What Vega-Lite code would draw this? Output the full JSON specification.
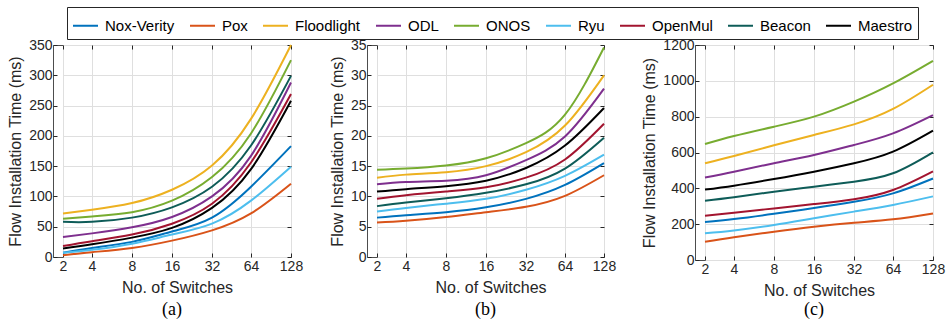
{
  "$schema": "https://vega.github.io/schema/vega-lite/v6.json",
  "padding": {"left": 7, "top": 6, "right": 5, "bottom": 2},
  "config": {
    "font": "Liberation Sans",
    "view": {"stroke": "#4d4d4d", "strokeWidth": 1},
    "axis": {
      "labelFont": "Liberation Sans", "labelFontSize": 14, "labelColor": "#262626",
      "titleFont": "Liberation Sans", "titleFontSize": 16, "titleFontWeight": "normal", "titleColor": "#262626",
      "tickColor": "#262626", "tickSize": -4, "domain": false,
      "gridColor": "#dfdfdf", "gridOpacity": 1, "labelFlush": false, "labelOverlap": false
    },
    "axisX": {"labelPadding": 6, "titlePadding": 6},
    "axisY": {"labelPadding": 5, "titlePadding": 5},
    "title": {"font": "Liberation Serif", "fontSize": 18, "fontWeight": "normal", "color": "#000000", "offset": 6}
  },
  "data": {"values": [
    {"panel":"a","controller":"Nox-Verity","switches":2,"time":7},{"panel":"a","controller":"Nox-Verity","switches":4,"time":15},{"panel":"a","controller":"Nox-Verity","switches":8,"time":25},{"panel":"a","controller":"Nox-Verity","switches":16,"time":42},{"panel":"a","controller":"Nox-Verity","switches":32,"time":65},{"panel":"a","controller":"Nox-Verity","switches":64,"time":116},{"panel":"a","controller":"Nox-Verity","switches":128,"time":183},
    {"panel":"a","controller":"Pox","switches":2,"time":3},{"panel":"a","controller":"Pox","switches":4,"time":8},{"panel":"a","controller":"Pox","switches":8,"time":15},{"panel":"a","controller":"Pox","switches":16,"time":27},{"panel":"a","controller":"Pox","switches":32,"time":44},{"panel":"a","controller":"Pox","switches":64,"time":72},{"panel":"a","controller":"Pox","switches":128,"time":121},
    {"panel":"a","controller":"Floodlight","switches":2,"time":72},{"panel":"a","controller":"Floodlight","switches":4,"time":78},{"panel":"a","controller":"Floodlight","switches":8,"time":89},{"panel":"a","controller":"Floodlight","switches":16,"time":111},{"panel":"a","controller":"Floodlight","switches":32,"time":151},{"panel":"a","controller":"Floodlight","switches":64,"time":228},{"panel":"a","controller":"Floodlight","switches":128,"time":350},
    {"panel":"a","controller":"ODL","switches":2,"time":33},{"panel":"a","controller":"ODL","switches":4,"time":39},{"panel":"a","controller":"ODL","switches":8,"time":49},{"panel":"a","controller":"ODL","switches":16,"time":66},{"panel":"a","controller":"ODL","switches":32,"time":100},{"panel":"a","controller":"ODL","switches":64,"time":167},{"panel":"a","controller":"ODL","switches":128,"time":288},
    {"panel":"a","controller":"ONOS","switches":2,"time":63},{"panel":"a","controller":"ONOS","switches":4,"time":67},{"panel":"a","controller":"ONOS","switches":8,"time":74},{"panel":"a","controller":"ONOS","switches":16,"time":93},{"panel":"a","controller":"ONOS","switches":32,"time":132},{"panel":"a","controller":"ONOS","switches":64,"time":204},{"panel":"a","controller":"ONOS","switches":128,"time":325},
    {"panel":"a","controller":"Ryu","switches":2,"time":7},{"panel":"a","controller":"Ryu","switches":4,"time":12},{"panel":"a","controller":"Ryu","switches":8,"time":22},{"panel":"a","controller":"Ryu","switches":16,"time":37},{"panel":"a","controller":"Ryu","switches":32,"time":55},{"panel":"a","controller":"Ryu","switches":64,"time":93},{"panel":"a","controller":"Ryu","switches":128,"time":149},
    {"panel":"a","controller":"OpenMul","switches":2,"time":18},{"panel":"a","controller":"OpenMul","switches":4,"time":26},{"panel":"a","controller":"OpenMul","switches":8,"time":37},{"panel":"a","controller":"OpenMul","switches":16,"time":55},{"panel":"a","controller":"OpenMul","switches":32,"time":88},{"panel":"a","controller":"OpenMul","switches":64,"time":156},{"panel":"a","controller":"OpenMul","switches":128,"time":269},
    {"panel":"a","controller":"Beacon","switches":2,"time":58},{"panel":"a","controller":"Beacon","switches":4,"time":58},{"panel":"a","controller":"Beacon","switches":8,"time":65},{"panel":"a","controller":"Beacon","switches":16,"time":82},{"panel":"a","controller":"Beacon","switches":32,"time":116},{"panel":"a","controller":"Beacon","switches":64,"time":184},{"panel":"a","controller":"Beacon","switches":128,"time":299},
    {"panel":"a","controller":"Maestro","switches":2,"time":14},{"panel":"a","controller":"Maestro","switches":4,"time":21},{"panel":"a","controller":"Maestro","switches":8,"time":32},{"panel":"a","controller":"Maestro","switches":16,"time":48},{"panel":"a","controller":"Maestro","switches":32,"time":81},{"panel":"a","controller":"Maestro","switches":64,"time":145},{"panel":"a","controller":"Maestro","switches":128,"time":258},
    {"panel":"b","controller":"Nox-Verity","switches":2,"time":6.5},{"panel":"b","controller":"Nox-Verity","switches":4,"time":6.9},{"panel":"b","controller":"Nox-Verity","switches":8,"time":7.4},{"panel":"b","controller":"Nox-Verity","switches":16,"time":8.2},{"panel":"b","controller":"Nox-Verity","switches":32,"time":9.6},{"panel":"b","controller":"Nox-Verity","switches":64,"time":11.9},{"panel":"b","controller":"Nox-Verity","switches":128,"time":15.5},
    {"panel":"b","controller":"Pox","switches":2,"time":5.7},{"panel":"b","controller":"Pox","switches":4,"time":6.0},{"panel":"b","controller":"Pox","switches":8,"time":6.6},{"panel":"b","controller":"Pox","switches":16,"time":7.4},{"panel":"b","controller":"Pox","switches":32,"time":8.3},{"panel":"b","controller":"Pox","switches":64,"time":10.1},{"panel":"b","controller":"Pox","switches":128,"time":13.5},
    {"panel":"b","controller":"Floodlight","switches":2,"time":13.1},{"panel":"b","controller":"Floodlight","switches":4,"time":13.6},{"panel":"b","controller":"Floodlight","switches":8,"time":14.0},{"panel":"b","controller":"Floodlight","switches":16,"time":15.0},{"panel":"b","controller":"Floodlight","switches":32,"time":17.3},{"panel":"b","controller":"Floodlight","switches":64,"time":21.7},{"panel":"b","controller":"Floodlight","switches":128,"time":30.0},
    {"panel":"b","controller":"ODL","switches":2,"time":12.0},{"panel":"b","controller":"ODL","switches":4,"time":12.4},{"panel":"b","controller":"ODL","switches":8,"time":12.6},{"panel":"b","controller":"ODL","switches":16,"time":13.5},{"panel":"b","controller":"ODL","switches":32,"time":16.0},{"panel":"b","controller":"ODL","switches":64,"time":19.9},{"panel":"b","controller":"ODL","switches":128,"time":27.8},
    {"panel":"b","controller":"ONOS","switches":2,"time":14.4},{"panel":"b","controller":"ONOS","switches":4,"time":14.6},{"panel":"b","controller":"ONOS","switches":8,"time":15.1},{"panel":"b","controller":"ONOS","switches":16,"time":16.3},{"panel":"b","controller":"ONOS","switches":32,"time":18.8},{"panel":"b","controller":"ONOS","switches":64,"time":23.5},{"panel":"b","controller":"ONOS","switches":128,"time":34.6},
    {"panel":"b","controller":"Ryu","switches":2,"time":7.5},{"panel":"b","controller":"Ryu","switches":4,"time":8.1},{"panel":"b","controller":"Ryu","switches":8,"time":8.8},{"panel":"b","controller":"Ryu","switches":16,"time":9.6},{"panel":"b","controller":"Ryu","switches":32,"time":11.1},{"panel":"b","controller":"Ryu","switches":64,"time":13.4},{"panel":"b","controller":"Ryu","switches":128,"time":16.9},
    {"panel":"b","controller":"OpenMul","switches":2,"time":9.6},{"panel":"b","controller":"OpenMul","switches":4,"time":10.2},{"panel":"b","controller":"OpenMul","switches":8,"time":10.8},{"panel":"b","controller":"OpenMul","switches":16,"time":11.5},{"panel":"b","controller":"OpenMul","switches":32,"time":13.1},{"panel":"b","controller":"OpenMul","switches":64,"time":16.1},{"panel":"b","controller":"OpenMul","switches":128,"time":22.0},
    {"panel":"b","controller":"Beacon","switches":2,"time":8.4},{"panel":"b","controller":"Beacon","switches":4,"time":9.0},{"panel":"b","controller":"Beacon","switches":8,"time":9.7},{"panel":"b","controller":"Beacon","switches":16,"time":10.6},{"panel":"b","controller":"Beacon","switches":32,"time":12.0},{"panel":"b","controller":"Beacon","switches":64,"time":14.6},{"panel":"b","controller":"Beacon","switches":128,"time":19.7},
    {"panel":"b","controller":"Maestro","switches":2,"time":10.8},{"panel":"b","controller":"Maestro","switches":4,"time":11.2},{"panel":"b","controller":"Maestro","switches":8,"time":11.7},{"panel":"b","controller":"Maestro","switches":16,"time":12.6},{"panel":"b","controller":"Maestro","switches":32,"time":14.7},{"panel":"b","controller":"Maestro","switches":64,"time":18.4},{"panel":"b","controller":"Maestro","switches":128,"time":24.6},
    {"panel":"c","controller":"Nox-Verity","switches":2,"time":212},{"panel":"c","controller":"Nox-Verity","switches":4,"time":229},{"panel":"c","controller":"Nox-Verity","switches":8,"time":258},{"panel":"c","controller":"Nox-Verity","switches":16,"time":290},{"panel":"c","controller":"Nox-Verity","switches":32,"time":325},{"panel":"c","controller":"Nox-Verity","switches":64,"time":372},{"panel":"c","controller":"Nox-Verity","switches":128,"time":455},
    {"panel":"c","controller":"Pox","switches":2,"time":102},{"panel":"c","controller":"Pox","switches":4,"time":127},{"panel":"c","controller":"Pox","switches":8,"time":158},{"panel":"c","controller":"Pox","switches":16,"time":186},{"panel":"c","controller":"Pox","switches":32,"time":208},{"panel":"c","controller":"Pox","switches":64,"time":227},{"panel":"c","controller":"Pox","switches":128,"time":260},
    {"panel":"c","controller":"Floodlight","switches":2,"time":540},{"panel":"c","controller":"Floodlight","switches":4,"time":580},{"panel":"c","controller":"Floodlight","switches":8,"time":640},{"panel":"c","controller":"Floodlight","switches":16,"time":698},{"panel":"c","controller":"Floodlight","switches":32,"time":757},{"panel":"c","controller":"Floodlight","switches":64,"time":843},{"panel":"c","controller":"Floodlight","switches":128,"time":978},
    {"panel":"c","controller":"ODL","switches":2,"time":461},{"panel":"c","controller":"ODL","switches":4,"time":493},{"panel":"c","controller":"ODL","switches":8,"time":540},{"panel":"c","controller":"ODL","switches":16,"time":586},{"panel":"c","controller":"ODL","switches":32,"time":642},{"panel":"c","controller":"ODL","switches":64,"time":707},{"panel":"c","controller":"ODL","switches":128,"time":809},
    {"panel":"c","controller":"ONOS","switches":2,"time":647},{"panel":"c","controller":"ONOS","switches":4,"time":692},{"panel":"c","controller":"ONOS","switches":8,"time":744},{"panel":"c","controller":"ONOS","switches":16,"time":800},{"panel":"c","controller":"ONOS","switches":32,"time":884},{"panel":"c","controller":"ONOS","switches":64,"time":986},{"panel":"c","controller":"ONOS","switches":128,"time":1112},
    {"panel":"c","controller":"Ryu","switches":2,"time":149},{"panel":"c","controller":"Ryu","switches":4,"time":165},{"panel":"c","controller":"Ryu","switches":8,"time":195},{"panel":"c","controller":"Ryu","switches":16,"time":233},{"panel":"c","controller":"Ryu","switches":32,"time":270},{"panel":"c","controller":"Ryu","switches":64,"time":307},{"panel":"c","controller":"Ryu","switches":128,"time":355},
    {"panel":"c","controller":"OpenMul","switches":2,"time":247},{"panel":"c","controller":"OpenMul","switches":4,"time":264},{"panel":"c","controller":"OpenMul","switches":8,"time":288},{"panel":"c","controller":"OpenMul","switches":16,"time":312},{"panel":"c","controller":"OpenMul","switches":32,"time":339},{"panel":"c","controller":"OpenMul","switches":64,"time":391},{"panel":"c","controller":"OpenMul","switches":128,"time":495},
    {"panel":"c","controller":"Beacon","switches":2,"time":331},{"panel":"c","controller":"Beacon","switches":4,"time":350},{"panel":"c","controller":"Beacon","switches":8,"time":381},{"panel":"c","controller":"Beacon","switches":16,"time":409},{"panel":"c","controller":"Beacon","switches":32,"time":437},{"panel":"c","controller":"Beacon","switches":64,"time":484},{"panel":"c","controller":"Beacon","switches":128,"time":601},
    {"panel":"c","controller":"Maestro","switches":2,"time":393},{"panel":"c","controller":"Maestro","switches":4,"time":415},{"panel":"c","controller":"Maestro","switches":8,"time":452},{"panel":"c","controller":"Maestro","switches":16,"time":493},{"panel":"c","controller":"Maestro","switches":32,"time":540},{"panel":"c","controller":"Maestro","switches":64,"time":605},{"panel":"c","controller":"Maestro","switches":128,"time":722}
  ]},
  "spacing": 24,
  "resolve": {"scale": {"x": "independent", "y": "independent"}},
  "hconcat": [
    {
      "width": 238, "height": 212,
      "title": {"text": "(a)", "orient": "bottom"},
      "transform": [{"filter": "datum.panel === 'a'"}],
      "layer": [
        {
          "mark": {"type": "line", "strokeWidth": 2, "interpolate": "natural"},
          "encoding": {
            "x": {"field": "switches", "type": "quantitative", "title": "No. of Switches",
              "scale": {"type": "linear", "domain": [2,4,8,16,32,64,128], "range": [10,39,79,119,159,198,238], "nice": false, "zero": false},
              "axis": {"values": [2,4,8,16,32,64,128]}},
            "y": {"field": "time", "type": "quantitative", "title": "Flow Installation Time (ms)",
              "scale": {"domain": [0, 350], "nice": false},
              "axis": {"values": [0,50,100,150,200,250,300,350]}},
            "color": {"field": "controller", "type": "nominal",
              "scale": {"domain": ["Nox-Verity","Pox","Floodlight","ODL","ONOS","Ryu","OpenMul","Beacon","Maestro"],
                "range": ["#0072BD","#D95319","#EDB120","#7E2F8E","#77AC30","#4DBEEE","#A2142F","#0E5C58","#000000"]},
              "legend": {"orient": "none", "legendX": 14, "legendY": -38, "direction": "horizontal", "title": null,
                "symbolType": "stroke", "symbolSize": 625, "symbolStrokeWidth": 2,
                "labelFont": "Liberation Sans", "labelFontSize": 15, "labelColor": "#000000", "labelOffset": 6,
                "columnPadding": 11, "padding": 5, "strokeColor": "#262626", "fillColor": "#ffffff"}}
          }
        },
        {
          "mark": {"type": "line", "opacity": 0},
          "encoding": {
            "x": {"field": "switches", "type": "quantitative",
              "scale": {"type": "linear", "domain": [2,4,8,16,32,64,128], "range": [10,39,79,119,159,198,238], "nice": false, "zero": false},
              "axis": {"orient": "top", "values": [2,4,8,16,32,64,128], "labels": false, "grid": false, "title": null}},
            "y": {"field": "time", "type": "quantitative", "scale": {"domain": [0, 350], "nice": false},
              "axis": {"orient": "right", "values": [0,50,100,150,200,250,300,350], "labels": false, "grid": false, "title": null}},
            "detail": {"field": "controller"}
          }
        }
      ],
      "resolve": {"axis": {"x": "independent", "y": "independent"}}
    },
    {
      "width": 237, "height": 212,
      "title": {"text": "(b)", "orient": "bottom"},
      "transform": [{"filter": "datum.panel === 'b'"}],
      "layer": [
        {
          "mark": {"type": "line", "strokeWidth": 2, "interpolate": "natural"},
          "encoding": {
            "x": {"field": "switches", "type": "quantitative", "title": "No. of Switches",
              "scale": {"type": "linear", "domain": [2,4,8,16,32,64,128], "range": [10,39,79,119,159,198,237], "nice": false, "zero": false},
              "axis": {"values": [2,4,8,16,32,64,128]}},
            "y": {"field": "time", "type": "quantitative", "title": "Flow Installation Time (ms)",
              "scale": {"domain": [0, 35], "nice": false},
              "axis": {"values": [0,5,10,15,20,25,30,35]}},
            "color": {"field": "controller", "type": "nominal"}
          }
        },
        {
          "mark": {"type": "line", "opacity": 0},
          "encoding": {
            "x": {"field": "switches", "type": "quantitative",
              "scale": {"type": "linear", "domain": [2,4,8,16,32,64,128], "range": [10,39,79,119,159,198,237], "nice": false, "zero": false},
              "axis": {"orient": "top", "values": [2,4,8,16,32,64,128], "labels": false, "grid": false, "title": null}},
            "y": {"field": "time", "type": "quantitative", "scale": {"domain": [0, 35], "nice": false},
              "axis": {"orient": "right", "values": [0,5,10,15,20,25,30,35], "labels": false, "grid": false, "title": null}},
            "detail": {"field": "controller"}
          }
        }
      ],
      "resolve": {"axis": {"x": "independent", "y": "independent"}}
    },
    {
      "width": 238, "height": 215,
      "title": {"text": "(c)", "orient": "bottom", "offset": 3},
      "transform": [{"filter": "datum.panel === 'c'"}],
      "layer": [
        {
          "mark": {"type": "line", "strokeWidth": 2, "interpolate": "natural"},
          "encoding": {
            "x": {"field": "switches", "type": "quantitative", "title": "No. of Switches",
              "scale": {"type": "linear", "domain": [2,4,8,16,32,64,128], "range": [10,39,79,119,159,198,238], "nice": false, "zero": false},
              "axis": {"values": [2,4,8,16,32,64,128]}},
            "y": {"field": "time", "type": "quantitative", "title": "Flow Installation Time (ms)",
              "scale": {"domain": [0, 1200], "nice": false},
              "axis": {"values": [0,200,400,600,800,1000,1200], "format": "d"}},
            "color": {"field": "controller", "type": "nominal"}
          }
        },
        {
          "mark": {"type": "line", "opacity": 0},
          "encoding": {
            "x": {"field": "switches", "type": "quantitative",
              "scale": {"type": "linear", "domain": [2,4,8,16,32,64,128], "range": [10,39,79,119,159,198,238], "nice": false, "zero": false},
              "axis": {"orient": "top", "values": [2,4,8,16,32,64,128], "labels": false, "grid": false, "title": null}},
            "y": {"field": "time", "type": "quantitative", "scale": {"domain": [0, 1200], "nice": false},
              "axis": {"orient": "right", "values": [0,200,400,600,800,1000,1200], "labels": false, "grid": false, "title": null}},
            "detail": {"field": "controller"}
          }
        }
      ],
      "resolve": {"axis": {"x": "independent", "y": "independent"}}
    }
  ]
}
